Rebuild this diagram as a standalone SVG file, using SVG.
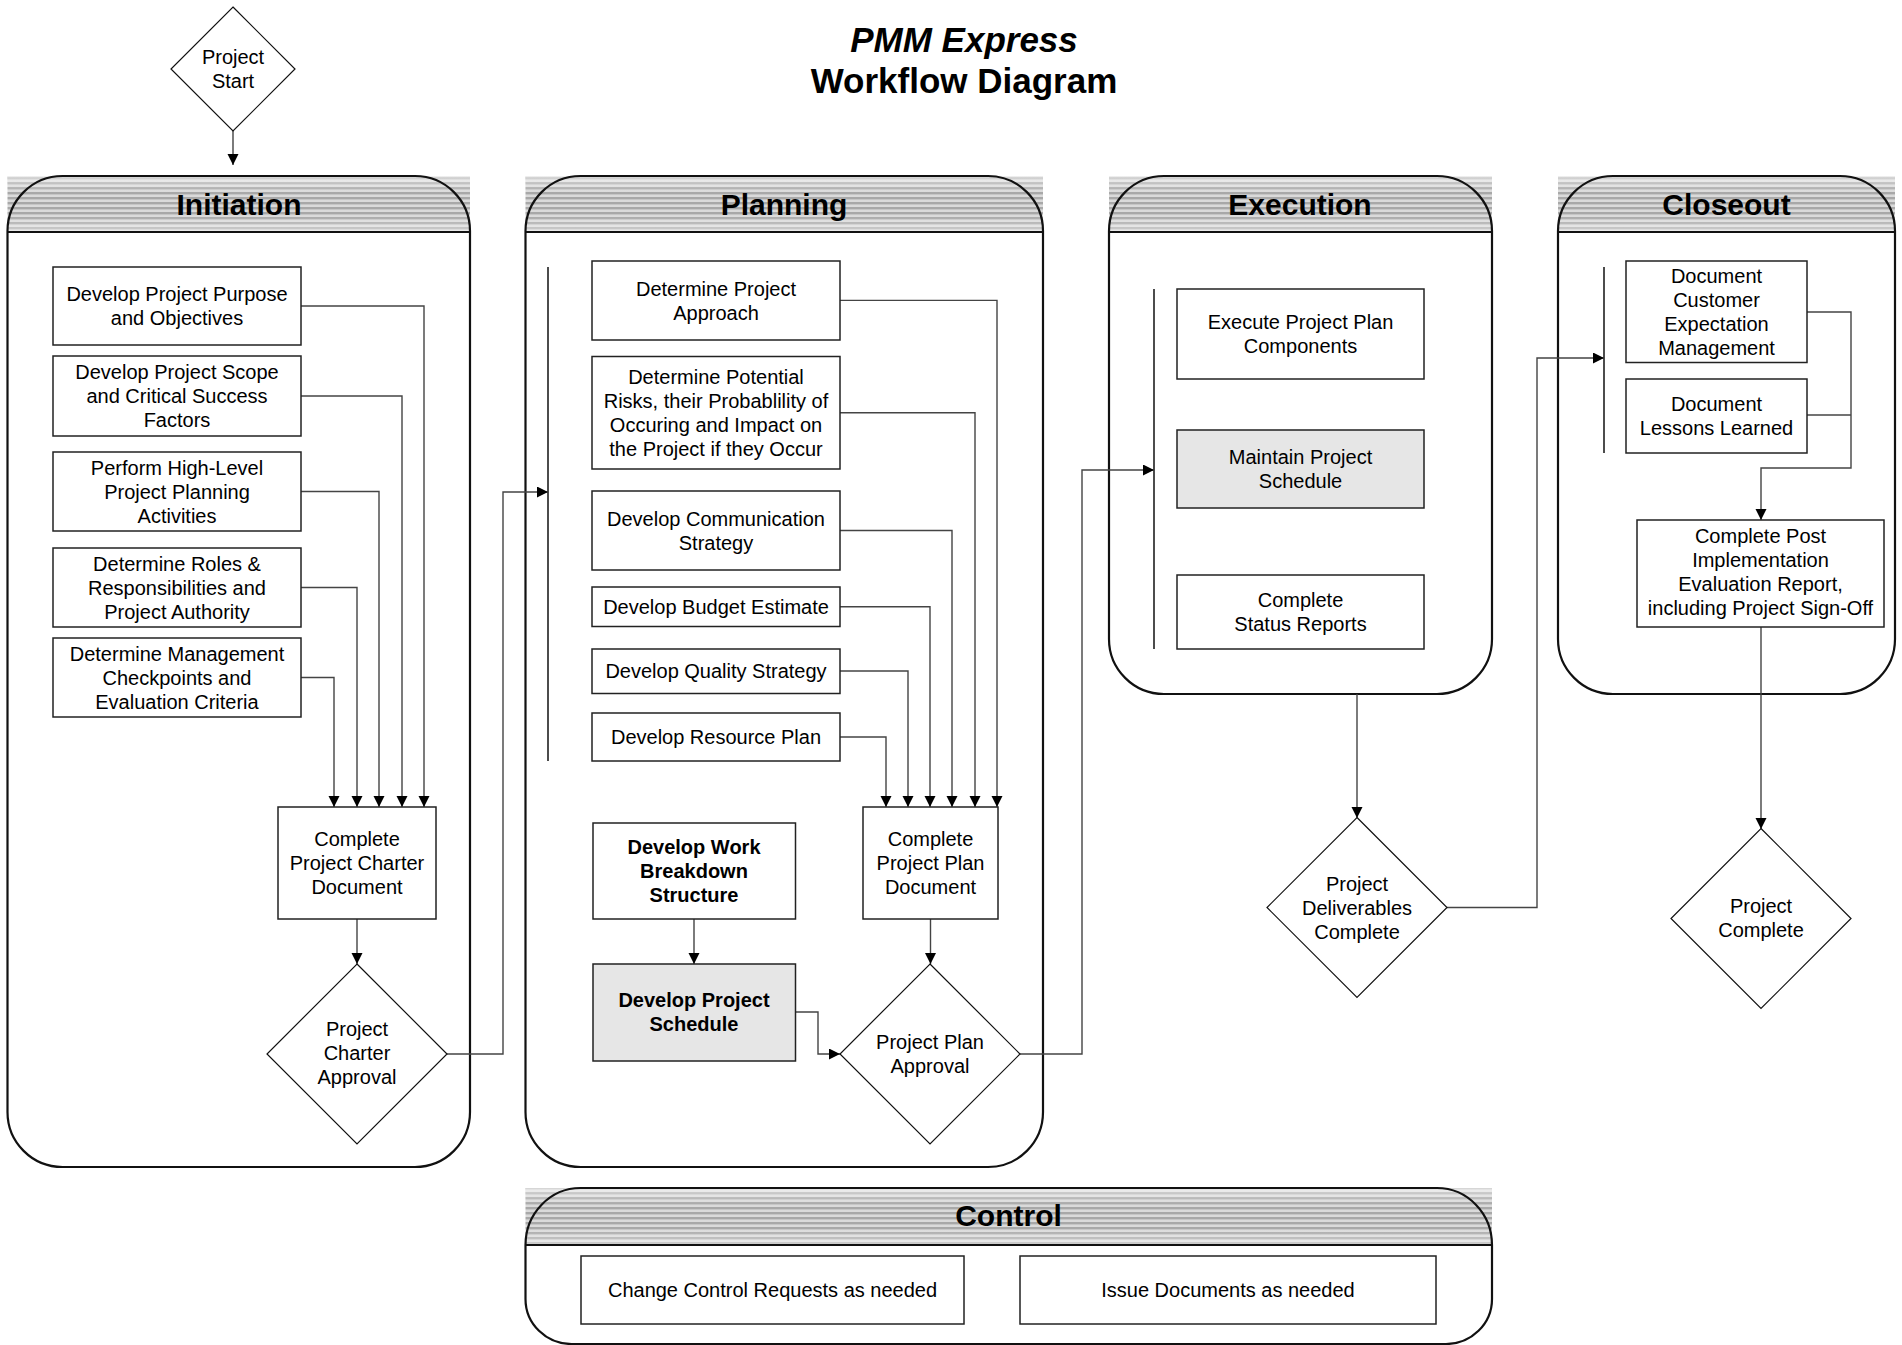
<svg xmlns="http://www.w3.org/2000/svg" width="1902" height="1345" viewBox="0 0 1902 1345">
<style>
text{font-family:"Liberation Sans",Arial,sans-serif;fill:#000}
.t{font-size:20px;text-anchor:middle}
.b{font-weight:bold}
.title{font-size:35px;font-weight:bold;text-anchor:middle}
.lt{font-size:30px;font-weight:bold;text-anchor:middle}
.box{fill:#fff;stroke:#222;stroke-width:1.5}
.gray{fill:#e6e6e6}
.dia{fill:#fff;stroke:#111;stroke-width:1.2}
.lane{fill:none;stroke:#111;stroke-width:2.2}
.hdr{fill:url(#stripes)}
.hl{stroke:#111;stroke-width:2.2}
.br{stroke:#111;stroke-width:1.5}
.c{fill:none;stroke:#444;stroke-width:1.4;marker-end:url(#ah)}
.cn{fill:none;stroke:#444;stroke-width:1.4}
</style>
<defs>
<pattern id="stripes" patternUnits="userSpaceOnUse" width="10" height="5">
<rect width="10" height="5" fill="#dadada"/>
<rect y="2" width="10" height="2.4" fill="#a8a8a8"/>
</pattern>
<linearGradient id="fade" x1="0" y1="0" x2="0" y2="1">
<stop offset="0" stop-color="#fff" stop-opacity="0.55"/>
<stop offset="0.3" stop-color="#fff" stop-opacity="0"/>
<stop offset="0.7" stop-color="#fff" stop-opacity="0"/>
<stop offset="1" stop-color="#fff" stop-opacity="0.45"/>
</linearGradient>
<marker id="ah" markerUnits="userSpaceOnUse" markerWidth="12" markerHeight="12" refX="11" refY="5.5" orient="auto">
<path d="M0,0 L11,5.5 L0,11 z" fill="#000"/>
</marker>
</defs>
<rect width="1902" height="1345" fill="#fff"/>

<g id="title">
<text class="title" x="964" y="52" font-style="italic">PMM Express</text>
<text class="title" x="964" y="93">Workflow Diagram</text>
</g>

<!-- Lanes -->
<g id="lane-initiation">
<rect class="hdr" x="7.5" y="176" width="462.5" height="56"/>
<rect fill="url(#fade)" x="7.5" y="176" width="462.5" height="56"/>
<path class="lane" d="M62.5,176 H415 A55,55 0 0 1 470,231 V1112 A55,55 0 0 1 415,1167 H62.5 A55,55 0 0 1 7.5,1112 V231 A55,55 0 0 1 62.5,176 Z"/>
<line class="hl" x1="7.5" y1="232" x2="470" y2="232"/>
<text class="lt" x="239" y="215">Initiation</text>
</g>
<g id="lane-planning">
<rect class="hdr" x="525.5" y="176" width="517.5" height="56"/>
<rect fill="url(#fade)" x="525.5" y="176" width="517.5" height="56"/>
<path class="lane" d="M580.5,176 H988 A55,55 0 0 1 1043,231 V1112 A55,55 0 0 1 988,1167 H580.5 A55,55 0 0 1 525.5,1112 V231 A55,55 0 0 1 580.5,176 Z"/>
<line class="hl" x1="525.5" y1="232" x2="1043" y2="232"/>
<text class="lt" x="784" y="215">Planning</text>
</g>
<g id="lane-execution">
<rect class="hdr" x="1109" y="176" width="383" height="56"/>
<rect fill="url(#fade)" x="1109" y="176" width="383" height="56"/>
<path class="lane" d="M1164,176 H1437 A55,55 0 0 1 1492,231 V639 A55,55 0 0 1 1437,694 H1164 A55,55 0 0 1 1109,639 V231 A55,55 0 0 1 1164,176 Z"/>
<line class="hl" x1="1109" y1="232" x2="1492" y2="232"/>
<text class="lt" x="1300" y="215">Execution</text>
</g>
<g id="lane-closeout">
<rect class="hdr" x="1558" y="176" width="337" height="56"/>
<rect fill="url(#fade)" x="1558" y="176" width="337" height="56"/>
<path class="lane" d="M1613,176 H1840 A55,55 0 0 1 1895,231 V639 A55,55 0 0 1 1840,694 H1613 A55,55 0 0 1 1558,639 V231 A55,55 0 0 1 1613,176 Z"/>
<line class="hl" x1="1558" y1="232" x2="1895" y2="232"/>
<text class="lt" x="1726.5" y="215">Closeout</text>
</g>
<g id="lane-control">
<rect class="hdr" x="525.5" y="1188" width="966.5" height="57"/>
<rect fill="url(#fade)" x="525.5" y="1188" width="966.5" height="57"/>
<path class="lane" d="M580.5,1188 H1437 A55,57 0 0 1 1492,1245 V1299 A46,45 0 0 1 1446,1344 H571.5 A46,45 0 0 1 525.5,1299 V1245 A55,57 0 0 1 580.5,1188 Z"/>
<line class="hl" x1="525.5" y1="1245" x2="1492" y2="1245"/>
<text class="lt" x="1008.5" y="1226">Control</text>
</g>

<!-- Brackets -->
<g id="brackets">
<line class="br" x1="548" y1="267" x2="548" y2="761"/>
<line class="br" x1="1154" y1="289" x2="1154" y2="649"/>
<line class="br" x1="1604" y1="267" x2="1604" y2="453"/>
</g>

<!-- Connectors -->
<g id="connectors">
<path class="c" d="M233,131 V165"/>
<path class="c" d="M301,306 H424 V807"/>
<path class="c" d="M301,396 H402 V807"/>
<path class="c" d="M301,491.5 H379 V807"/>
<path class="c" d="M301,587.5 H357 V807"/>
<path class="c" d="M301,677.5 H334 V807"/>
<path class="c" d="M357,919 V964"/>
<path class="c" d="M447,1054 H503 V492 H548"/>
<path class="c" d="M840,300.4 H997 V807"/>
<path class="c" d="M840,412.7 H975 V807"/>
<path class="c" d="M840,530.5 H952 V807"/>
<path class="c" d="M840,606.7 H930 V807"/>
<path class="c" d="M840,671 H908 V807"/>
<path class="c" d="M840,737 H886 V807"/>
<path class="c" d="M694,919 V964"/>
<path class="c" d="M795.5,1012 H818 V1054 H840"/>
<path class="c" d="M930.5,919 V964"/>
<path class="c" d="M1020,1054 H1082 V470 H1154"/>
<path class="c" d="M1357,694 V818"/>
<path class="c" d="M1447,907.5 H1537 V358 H1604"/>
<path class="c" d="M1807,312 H1851 V468 H1761 V520"/>
<path class="cn" d="M1807,415 H1851"/>
<path class="c" d="M1761,627 V829"/>
</g>

<!-- Nodes -->
<g id="project-start">
<polygon class="dia" points="233,7 295,69 233,131 171,69"/>
<text class="t" x="233" y="64">Project</text>
<text class="t" x="233" y="88">Start</text>
</g>

<g id="i1"><rect class="box" x="53" y="267" width="248" height="78"/>
<text class="t" x="177" y="301">Develop Project Purpose</text><text class="t" x="177" y="325">and Objectives</text></g>
<g id="i2"><rect class="box" x="53" y="356" width="248" height="80"/>
<text class="t" x="177" y="379">Develop Project Scope</text><text class="t" x="177" y="403">and Critical Success</text><text class="t" x="177" y="427">Factors</text></g>
<g id="i3"><rect class="box" x="53" y="452" width="248" height="79"/>
<text class="t" x="177" y="474.5">Perform High-Level</text><text class="t" x="177" y="498.5">Project Planning</text><text class="t" x="177" y="522.5">Activities</text></g>
<g id="i4"><rect class="box" x="53" y="548" width="248" height="79"/>
<text class="t" x="177" y="570.5">Determine Roles &amp;</text><text class="t" x="177" y="594.5">Responsibilities and</text><text class="t" x="177" y="618.5">Project Authority</text></g>
<g id="i5"><rect class="box" x="53" y="638" width="248" height="79"/>
<text class="t" x="177" y="660.5">Determine Management</text><text class="t" x="177" y="684.5">Checkpoints and</text><text class="t" x="177" y="708.5">Evaluation Criteria</text></g>
<g id="charter-doc"><rect class="box" x="278" y="807" width="158" height="112"/>
<text class="t" x="357" y="846">Complete</text><text class="t" x="357" y="870">Project Charter</text><text class="t" x="357" y="894">Document</text></g>
<g id="charter-approval"><polygon class="dia" points="357,964 447,1054 357,1144 267,1054"/>
<text class="t" x="357" y="1036">Project</text><text class="t" x="357" y="1060">Charter</text><text class="t" x="357" y="1084">Approval</text></g>

<g id="p1"><rect class="box" x="592" y="261" width="248" height="79"/>
<text class="t" x="716" y="295.5">Determine Project</text><text class="t" x="716" y="319.5">Approach</text></g>
<g id="p2"><rect class="box" x="592" y="356.5" width="248" height="112.5"/>
<text class="t" x="716" y="383.5">Determine Potential</text><text class="t" x="716" y="407.5">Risks, their Probablility of</text><text class="t" x="716" y="431.5">Occuring and Impact on</text><text class="t" x="716" y="455.5">the Project if they Occur</text></g>
<g id="p3"><rect class="box" x="592" y="491" width="248" height="79"/>
<text class="t" x="716" y="525.5">Develop Communication</text><text class="t" x="716" y="549.5">Strategy</text></g>
<g id="p4"><rect class="box" x="592" y="587" width="248" height="39.5"/>
<text class="t" x="716" y="613.5">Develop Budget Estimate</text></g>
<g id="p5"><rect class="box" x="592" y="649" width="248" height="44.5"/>
<text class="t" x="716" y="678">Develop Quality Strategy</text></g>
<g id="p6"><rect class="box" x="592" y="713" width="248" height="48"/>
<text class="t" x="716" y="744">Develop Resource Plan</text></g>
<g id="wbs"><rect class="box" x="593" y="823" width="202.5" height="96"/>
<text class="t b" x="694" y="854">Develop Work</text><text class="t b" x="694" y="878">Breakdown</text><text class="t b" x="694" y="902">Structure</text></g>
<g id="schedule"><rect class="box gray" x="593" y="964" width="202.5" height="97"/>
<text class="t b" x="694" y="1007">Develop Project</text><text class="t b" x="694" y="1031">Schedule</text></g>
<g id="plan-doc"><rect class="box" x="863" y="807" width="135" height="112"/>
<text class="t" x="930.5" y="846">Complete</text><text class="t" x="930.5" y="870">Project Plan</text><text class="t" x="930.5" y="894">Document</text></g>
<g id="plan-approval"><polygon class="dia" points="930,964 1020,1054 930,1144 840,1054"/>
<text class="t" x="930" y="1049">Project Plan</text><text class="t" x="930" y="1073">Approval</text></g>

<g id="e1"><rect class="box" x="1177" y="289" width="247" height="90"/>
<text class="t" x="1300.5" y="329">Execute Project Plan</text><text class="t" x="1300.5" y="353">Components</text></g>
<g id="e2"><rect class="box gray" x="1177" y="430" width="247" height="78"/>
<text class="t" x="1300.5" y="464">Maintain Project</text><text class="t" x="1300.5" y="488">Schedule</text></g>
<g id="e3"><rect class="box" x="1177" y="575" width="247" height="74"/>
<text class="t" x="1300.5" y="607">Complete</text><text class="t" x="1300.5" y="631">Status Reports</text></g>
<g id="deliverables"><polygon class="dia" points="1357,817.5 1447,907.5 1357,997.5 1267,907.5"/>
<text class="t" x="1357" y="890.5">Project</text><text class="t" x="1357" y="914.5">Deliverables</text><text class="t" x="1357" y="938.5">Complete</text></g>

<g id="c1"><rect class="box" x="1626" y="261" width="181" height="101.5"/>
<text class="t" x="1716.5" y="283">Document</text><text class="t" x="1716.5" y="307">Customer</text><text class="t" x="1716.5" y="331">Expectation</text><text class="t" x="1716.5" y="355">Management</text></g>
<g id="c2"><rect class="box" x="1626" y="379" width="181" height="74"/>
<text class="t" x="1716.5" y="411">Document</text><text class="t" x="1716.5" y="435">Lessons Learned</text></g>
<g id="c3"><rect class="box" x="1637" y="520" width="247" height="107"/>
<text class="t" x="1760.5" y="543">Complete Post</text><text class="t" x="1760.5" y="567">Implementation</text><text class="t" x="1760.5" y="591">Evaluation Report,</text><text class="t" x="1760.5" y="615">including Project Sign-Off</text></g>
<g id="project-complete"><polygon class="dia" points="1761,828.5 1851,918.5 1761,1008.5 1671,918.5"/>
<text class="t" x="1761" y="913">Project</text><text class="t" x="1761" y="937">Complete</text></g>

<g id="k1"><rect class="box" x="581" y="1256" width="383" height="68"/>
<text class="t" x="772.5" y="1297">Change Control Requests as needed</text></g>
<g id="k2"><rect class="box" x="1020" y="1256" width="416" height="68"/>
<text class="t" x="1228" y="1297">Issue Documents as needed</text></g>
</svg>
